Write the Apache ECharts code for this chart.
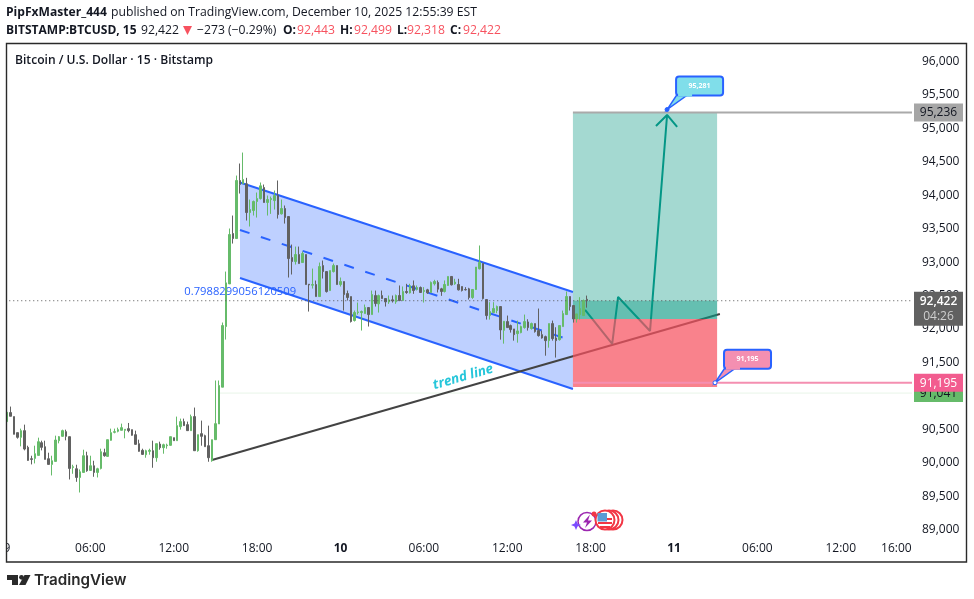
<!DOCTYPE html>
<html><head><meta charset="utf-8">
<style>html,body{margin:0;padding:0;background:#fff}#c{width:974px;height:599px}</style>
<script src="https://cdn.jsdelivr.net/npm/echarts@6/dist/echarts.min.js"></script>
</head><body><div id="c"></div>
<script>
// [open, close, low, high] per 15-minute bar
const candles = [
[90614,90754,90604,90764],[90749,90694,90694,90839],[90689,90424,90424,90689],[90449,90379,90359,90449],[90379,90479,90244,90509],
[90479,90204,90184,90569],[90229,90034,90029,90254],[90059,90049,89974,90104],[90064,90134,89989,90254],[90109,90314,90109,90374],
[90299,90229,90184,90329],[90239,90049,90049,90329],[90059,89974,89974,90149],[89974,90029,89809,90104],[90019,90339,90019,90404],
[90329,90389,90289,90399],[90394,90479,90389,90494],[90464,90394,90334,90494],[90389,89914,89749,90389],[89929,89939,89834,89969],
[89909,89779,89714,89969],[89779,89864,89554,89899],[89854,90104,89849,90194],[90104,89879,89864,90164],[89884,89954,89879,90104],
[89954,89854,89789,90029],[89854,89909,89779,89924],[89914,90164,89899,90209],[90149,90104,90089,90209],[90094,90344,90089,90344],
[90334,90449,90329,90509],[90454,90464,90439,90509],[90469,90494,90454,90524],[90484,90524,90484,90584],[90484,90499,90364,90499],
[90509,90479,90454,90594],[90494,90409,90404,90494],[90419,90274,90269,90479],[90284,90169,90164,90344],[90184,90124,90119,90209],
[90119,90179,90074,90194],[90169,90184,90119,90209],[90179,90074,89924,90329],[90074,90284,90014,90284],[90279,90224,90194,90314],
[90224,90269,90134,90284],[90254,90264,90209,90284],[90259,90389,90254,90389],[90374,90329,90329,90374],[90329,90554,90329,90689],
[90539,90614,90494,90659],[90614,90554,90554,90659],[90569,90479,90479,90614],[90479,90689,90479,90719],[90689,90179,90179,90824],
[90179,90419,90164,90419],[90434,90394,90254,90629],[90404,90239,90239,90419],[90254,90074,90014,90554],[90029,90344,90014,90344],
[90344,90584,90344,91229],[90579,91154,90579,91229],[91129,92051,91129,92096],[92036,92689,91841,92858],[92674,93412,92674,93502],
[93427,93352,93277,93696],[93352,94220,93352,94294],[94220,94160,94025,94474],[94170,94235,94170,94638],[94170,93741,93621,94260],
[93741,93786,93532,93935],[93771,93906,93696,93920],[93906,93950,93666,94040],[93950,94140,93935,94190],[94115,93891,93891,94160],
[93891,93935,93696,93995],[93935,93950,93721,93980],[93920,93995,93786,94070],[93995,93711,93651,94220],[93721,93801,93711,93935],
[93801,93666,93576,93846],[93681,93053,92769,93681],[93068,93008,92814,93262],[93008,93113,92963,93232],[93113,92978,92978,93232],
[92993,93128,92993,93158],[93113,92664,92664,93113],[92669,92659,92260,92669],[92654,92664,92604,92903],[92664,92484,92484,92724],
[92484,92933,92484,92993],[92948,92858,92754,93023],[92858,92559,92544,92858],[92574,92873,92574,92873],[92858,92948,92844,92978],
[92948,92664,92664,92948],[92664,92709,92634,92769],[92709,92514,92275,92709],[92529,92470,92425,92574],[92484,92111,92096,92484],
[92126,92245,92111,92275],[92245,92255,92215,92395],[92245,92260,91976,92275],[92230,92320,92230,92365],[92320,92215,92036,92320],
[92215,92514,92215,92574],[92499,92380,92335,92574],[92375,92499,92245,92514],[92499,92454,92454,92574],[92455,92405,92335,92455],
[92405,92435,92375,92500],[92435,92420,92395,92500],[92405,92500,92375,92515],[92500,92425,92415,92650],[92425,92560,92425,92635],
[92560,92545,92525,92675],[92540,92645,92530,92675],[92645,92575,92525,92725],[92590,92620,92575,92650],[92620,92545,92540,92635],
[92560,92575,92395,92625],[92585,92540,92525,92600],[92545,92695,92540,92710],[92675,92710,92650,92735],[92695,92595,92545,92725],
[92600,92560,92495,92615],[92560,92665,92545,92725],[92650,92785,92645,92785],[92785,92660,92650,92785],[92675,92700,92660,92750],
[92665,92585,92575,92750],[92635,92575,92560,92635],[92590,92585,92575,92625],[92600,92470,92440,92615],[92470,92590,92450,92595],
[92590,92925,92585,92925],[92900,92995,92890,93248],[92980,92455,92440,92980],[92440,92200,92140,92440],[92200,92260,92140,92400],
[92245,92305,92240,92400],[92275,92335,92235,92350],[92335,91985,91840,92335],[91980,92115,91780,92115],[92110,92020,92015,92200],
[92050,91990,91945,92065],[92000,91915,91825,92000],[91930,91970,91795,92125],[91945,92035,91935,92050],[92020,92110,92005,92215],
[92105,92020,91975,92145],[92005,92080,91990,92095],[92080,91960,91945,92080],[91975,91900,91885,92305],[91915,91865,91855,91975],
[91885,91825,91600,91900],[91825,92080,91720,92080],[92080,91855,91825,92125],[91865,91825,91572,92025],[91840,92050,91825,92050],
[92035,92230,92035,92275],[92215,92485,92215,92560],[92485,92335,92275,92485],[92350,92150,92095,92350],[92150,92225,92095,92225],
[92215,92305,92140,92475],[92200,92425,92200,92440],[92443,92422,92318,92499]
];
const barCount = 261;
const timeTicks = {0:'9',24:'06:00',48:'12:00',72:'18:00',96:'10',120:'06:00',144:'12:00',168:'18:00',192:'11',216:'06:00',240:'12:00',256:'16:00'};
const boldTicks = ['10','11'];
const priceTicks = [89000,89500,90000,90500,91000,91500,92000,92500,93000,93500,94000,94500,95000,95500,96000];
const priceMin = 88866, priceMax = 96254;
const barMin = -0.5, barMax = barCount - 0.5;

// drawings: [bar index, price]
const channelUpper = [[67.07,94190],[162.9,92552]];
const channelMiddle = [[67.07,93480],[162.9,91820]];
const channelLower = [[67.07,92762],[162.9,91102]];
const trendLine = [[59,90040],[205.2,92224]];
const zigzag = [[166.4,92284],[174.2,91775],[175.9,92478],[185.1,91970],[190,95200]];
const arrowHead = [[186.8,95036],[190,95200],[192.9,95021]];
const boxLeft = 162.9, boxRight = 204.4;
const targetPrice = 95236, entryPrice = 92150, stopBoxPrice = 91133, stopPrice = 91195, lastPrice = 92422, prevPrice = 91041;
const dottedLine = [[barMin,lastPrice],[barMax,lastPrice]];
const targetLine = [[boxLeft,targetPrice],[barMax,targetPrice]];
const stopLine = [[boxLeft,stopPrice],[barMax,stopPrice]];
const prevLine = [[61.3,prevPrice],[barMax,prevPrice]];

const zones = [
  {pts:[channelUpper[0],channelUpper[1],channelLower[1],channelLower[0]], fill:'rgba(41,98,255,0.3)', z:1},
  {pts:[[boxLeft,targetPrice],[boxRight,targetPrice],[boxRight,entryPrice],[boxLeft,entryPrice]], fill:'rgba(8,153,129,0.37)', z:3},
  {pts:[[boxLeft,lastPrice],[boxRight,lastPrice],[boxRight,entryPrice],[boxLeft,entryPrice]], fill:'rgba(8,153,129,0.4)', z:3},
  {pts:[[boxLeft,entryPrice],[boxRight,entryPrice],[boxRight,stopBoxPrice],[boxLeft,stopBoxPrice]], fill:'rgba(247,82,95,0.72)', z:3}
];
const callouts = [
  {at:[190,95281], text:'95,281', fill:'#80deea', dot:'#2962ff'},
  {at:[203.8,91195], text:'91,195', fill:'#f48fb1', dot:'#ffffff'}
];
const priceTags = [
  {price:95236, lines:['95,236'], fill:'#a6a6a6', color:'#131722'},
  {price:91041, lines:['91,041'], fill:'#66bb6a', color:'#131722'},
  {price:91195, lines:['91,195'], fill:'#f25c8f', color:'#ffffff'},
  {price:92422, lines:['92,422','04:26'], fill:'#616161', color:'#ffffff'}
];
const notes = [
  {at:[83.2,92552], text:'0.7988299056120509', color:'#2962ff', align:'right', size:11.2, rot:0, weight:'normal', style:'normal'},
  {at:[131.3,91282], text:'trend line', color:'#26c6da', align:'center', size:13.5, rot:0.28, weight:'bold', style:'italic'}
];

const FONT = '"Open Sans","Noto Sans",sans-serif';
const line = (data,color,width,z,type) => ({type:'line',xAxisIndex:1,yAxisIndex:0,data,showSymbol:false,symbol:'none',z,silent:true,clip:false,
  lineStyle:{color,width,type:type||'solid',cap:'butt'},animation:false});
const custom = (rows,z,renderItem) => ({type:'custom',xAxisIndex:1,yAxisIndex:0,z,clip:false,silent:true,animation:false,
  data:rows.map(()=>[0,priceMin]),renderItem});

const zoneSeries = z => custom(zones.filter(a=>a.z===z),z,(p,api)=>{
  const a = zones.filter(a=>a.z===z)[p.dataIndex];
  return {type:'polygon',shape:{points:a.pts.map(q=>api.coord(q))},style:{fill:a.fill}};
});

const option = {
  animation:false,
  backgroundColor:'#fff',
  grid:{left:5.26,right:974-912,top:44.5,bottom:599-538.5,containLabel:false},
  xAxis:[
    {type:'category',data:Array.from({length:barCount},(_,i)=>timeTicks[i]||''),boundaryGap:true,
     axisLine:{show:false},axisTick:{show:false},splitLine:{show:false},
     axisLabel:{interval:0,margin:4,fontSize:12,fontFamily:FONT,color:'#131722',hideOverlap:false,
       formatter:v=>boldTicks.includes(v)?'{b|'+v+'}':v,rich:{b:{fontWeight:'bold',fontSize:12,fontFamily:FONT,color:'#131722'}}}},
    {type:'value',min:barMin,max:barMax,show:false,splitLine:{show:false}}
  ],
  yAxis:[{type:'value',position:'right',min:priceMin,max:priceMax,scale:true,
    axisLine:{show:false},axisTick:{show:false},splitLine:{show:false},
    axisLabel:{customValues:priceTicks,margin:10,fontSize:12,fontFamily:FONT,color:'#131722',align:'left',padding:[1,0,0,0],
      showMinLabel:true,showMaxLabel:true,formatter:v=>v.toLocaleString('en-US')}}],
  series:[
    zoneSeries(1),
    line(channelUpper,'#2962ff',2,1),
    line(channelLower,'#2962ff',2,1),
    line(channelMiddle,'#2962ff',2,1,[10,12]),
    custom(notes.slice(0,1),1,(p,api)=>noteEl(notes[0],api)),
    line(prevLine,'#e8f5e9',1,1),
    line(trendLine,'#434343',2,2),
    line(zigzag,'#009688',2,2),
    line(arrowHead,'#009688',2,2),
    zoneSeries(3),
    {type:'candlestick',xAxisIndex:0,yAxisIndex:0,data:candles,barWidth:2,z:4,silent:true,animation:false,
      itemStyle:{color:'#66bb6a',color0:'#616161',borderColor:'#66bb6a',borderColor0:'#616161',borderWidth:1}},
    line(dottedLine,'#555555',1,5,[1,3]),
    line(targetLine,'#aaaaaa',2,5),
    line(stopLine,'#f48fb1',2,5),
    custom(notes.slice(1),6,(p,api)=>noteEl(notes[1],api)),
    custom(callouts,6,(p,api)=>{
      const c = callouts[p.dataIndex], [x,y] = api.coord(c.at);
      return {type:'group',children:[
        {type:'polygon',shape:{points:[[x,y],[x+10,y-15],[x+21,y-15]]},style:{fill:c.fill,stroke:'#2962ff',lineWidth:1.5}},
        {type:'rect',shape:{x:x+9,y:y-33,width:47,height:19,r:3},style:{fill:c.fill,stroke:'#2962ff',lineWidth:2}},
        {type:'rect',shape:{x:x+11,y:y-16,width:14,height:3},style:{fill:c.fill}},
        {type:'text',style:{x:x+32.5,y:y-23.5,text:c.text,fill:'#fff',font:'bold 7px '+FONT,textAlign:'center',textVerticalAlign:'middle'}},
        {type:'circle',shape:{cx:x,cy:y,r:2},style:{fill:c.dot,stroke:'#2962ff',lineWidth:1}}
      ]};
    }),
    custom(priceTags,7,(p,api)=>{
      const t = priceTags[p.dataIndex], [xr,y] = api.coord([barMax,t.price]);
      const two = t.lines.length>1;
      const kids = [{type:'rect',shape:{x:xr+2,y:y-9,width:49,height:two?34:18},style:{fill:t.fill}},
        {type:'text',style:{x:xr+26.5,y:y+0.5,text:t.lines[0],fill:t.color,font:(two?'600 ':'')+'12px '+FONT,textAlign:'center',textVerticalAlign:'middle'}}];
      if(two) kids.push({type:'text',style:{x:xr+26.5,y:y+15.5,text:t.lines[1],fill:'#cfcfcf',font:'12px '+FONT,textAlign:'center',textVerticalAlign:'middle'}});
      return {type:'group',children:kids};
    })
  ],
  graphic:{elements:buildGraphics()}
};
function noteEl(n,api){
  const [x,y] = api.coord(n.at);
  return {type:'text',x,y,rotation:n.rot,style:{x:0,y:0,text:n.text,fill:n.color,textAlign:n.align,textVerticalAlign:'middle',
    font:n.style+' '+n.weight+' '+n.size+'px '+FONT}};
}
function buildGraphics(){
  const T = (text,x,y,fill,weight,size,extra) => Object.assign({type:'text',x,y,z:50,style:{text,fill,fontSize:size||12,fontWeight:weight||'normal',fontFamily:FONT,verticalAlign:'middle',textVerticalAlign:'middle'}},extra||{});
  const red = '#f7525f', ink='#131722';
  const star=(cx,cy,r)=>[[cx,cy-r],[cx+r*.3,cy-r*.3],[cx+r,cy],[cx+r*.3,cy+r*.3],[cx,cy+r],[cx-r*.3,cy+r*.3],[cx-r,cy],[cx-r*.3,cy-r*.3]];
  const P=(points,fill,z)=>({type:'polygon',z:z||50,shape:{points},style:{fill}});
  const C=(cx,cy,r,fill,stroke,lw,z)=>({type:'circle',z:z||50,shape:{cx,cy,r},style:{fill,stroke,lineWidth:lw||0}});
  const R=(x,y,w,h,fill,z)=>({type:'rect',z:z||50,shape:{x,y,width:w,height:h},style:{fill}});
  return [
    R(0,44,6,518,'#fff',40),
    {type:'rect',z:41,shape:{x:6.5,y:43.5,width:960,height:518.5},style:{fill:'none',stroke:'#2a2a2a',lineWidth:1.4}},
    T('PipFxMaster_444',6,13,ink,'bold',12.1),
    T('published on TradingView.com, December 10, 2025 12:55:39 EST',111,13,ink,'normal',12.2),
    T('BITSTAMP:BTCUSD, 15',6,31,ink,'bold',12),
    T('92,422',141,31,ink,'normal',12.2),
    P([[183,26],[192,26],[187.5,35]],red),
    T('\u2212273 (\u22120.29%)',197,31,ink,'normal',12.2),
    T('O:',283,31,ink,'bold',12), T('92,443',297,31,red,'normal',12.2),
    T('H:',340,31,ink,'bold',12), T('92,499',354,31,red,'normal',12.2),
    T('L:',397,31,ink,'bold',12), T('92,318',407,31,red,'normal',12.2),
    T('C:',450,31,ink,'bold',12), T('92,422',463,31,red,'normal',12.2),
    T('Bitcoin / U.S. Dollar \u00b7 15 \u00b7 Bitstamp',15,61,ink,'600',12.1),
    // events icons
    C(587,521.5,9,'none','#9c27b0',1.5,30),
    P([[590,514.5],[583,522.5],[587,522.5],[585,528],[592,520.5],[588,520.5]],'#9c27b0',30),
    P(star(576,525,5),'#7c4dff',31),
    C(594,514,2.5,'#f23645','none',0,32),
    C(613,520,9.5,'#fff','#f23645',2,33),
    C(609,520,9.5,'#fff','#f23645',2,34),
    C(605,520,9.5,'#fff','#f23645',2,35),
    R(598,518,14,2,'#f23645',36),R(598,522,14,2,'#f23645',36),R(600,526,10,2,'#f23645',36),
    R(597.5,513,9.5,8.5,'#5b9bd5',37),
    // logo
    P([[7,575],[18,575],[18,585],[12,585],[12,580],[7,580]],'#2a2a2a'),
    C(21.5,577.3,2.4,'#2a2a2a'),
    P([[24.5,575],[30.5,575],[25.5,585],[19,585]],'#2a2a2a'),
    T('TradingView',34,580.5,'#2a2a2a','600',15,{style:{text:'TradingView',fill:'#2a2a2a',fontSize:15.2,fontWeight:'600',fontFamily:'Inter,Roboto,sans-serif',verticalAlign:'middle',textVerticalAlign:'middle'}})
  ];
}
const chart = echarts.init(document.getElementById('c'));
chart.setOption(option);
</script></body></html>
